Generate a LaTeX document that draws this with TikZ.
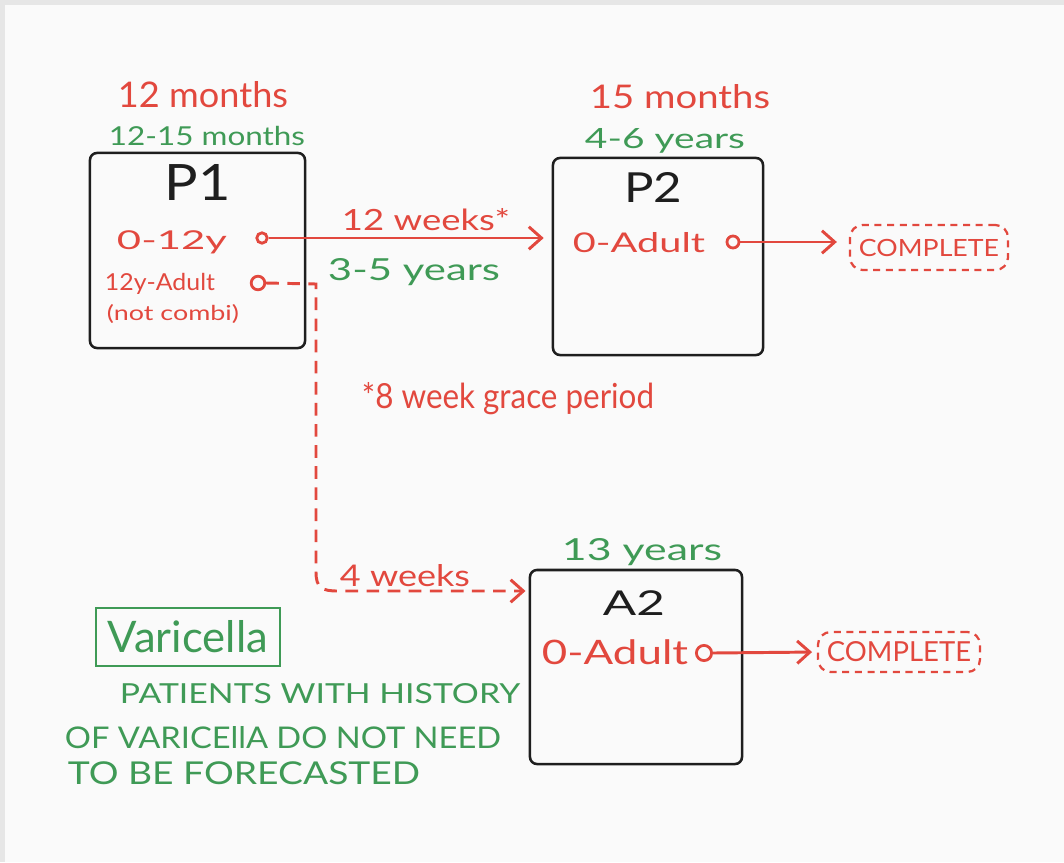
\documentclass[tikz,border=0pt]{standalone}
\usepackage{fontspec}
\setmainfont{Lato}
\usetikzlibrary{arrows.meta}
\definecolor{pen}{HTML}{E2483E}
\definecolor{leaf}{HTML}{3F9A56}
\definecolor{ink}{HTML}{1E1E1E}
\definecolor{paper}{HTML}{FAFAFA}
\definecolor{edge}{HTML}{E6E6E6}
% width, height (height above baseline), text
\newcommand{\fitw}[3]{\resizebox{#1}{#2}{#3}}
\tikzset{
  card/.style={draw=ink, line width=1.8pt, rounded corners=5pt, inner sep=0pt},
  rtxt/.style={inner sep=0pt, text=pen},
  gtxt/.style={inner sep=0pt, text=leaf},
  ktxt/.style={inner sep=0pt, text=ink},
  port/.style={circle, draw=pen, line width=2pt, inner sep=0pt},
  flow/.style={draw=pen, line width=2.1pt, -{Straight Barb[length=9pt,width=16pt,line width=2.1pt]}},
  donebox/.style={draw=pen, dashed, dash pattern=on 5pt off 4pt, line width=1.6pt, rounded corners=9pt, inner sep=0pt, text=pen},
  tagbox/.style={draw=leaf, line width=1.6pt, inner sep=0pt, text=leaf}
}
\begin{document}
\begin{tikzpicture}[x=0.025cm,y=-0.025cm]
\useasboundingbox (0,0) rectangle (1064,862);
\fill[edge] (0,0) rectangle (1064,862);
\fill[paper] (5,5) rectangle (1064,862);

% boxes
\node[card, minimum width=5.375cm, minimum height=4.875cm] (p1) at (197.5,250.5) {};
\node[card, minimum width=5.25cm, minimum height=4.925cm] (p2) at (658,256.5) {};
\node[card, minimum width=5.3cm, minimum height=4.85cm] (a2) at (636,667) {};

% P1 texts
\node[rtxt, anchor=base] (p1top) at (203,107) {\fitw{4.25cm}{0.65cm}{12 months}};
\node[gtxt, anchor=base] (p1rng) at (207,145) {\fitw{4.9cm}{0.48cm}{12-15 months}};
\node[ktxt, anchor=base] (p1name) at (198,200) {\fitw{1.65cm}{0.9cm}{P1}};
\node[rtxt, anchor=base] (p1a) at (172,249) {\fitw{2.75cm}{0.47cm}{0-12y}};
\node[rtxt, anchor=base] (p1b) at (160,290) {\fitw{2.75cm}{0.43cm}{12y-Adult}};
\node[rtxt, anchor=base] (p1c) at (173,320) {\fitw{3.3cm}{0.4cm}{(not combi)}};
\node[port, minimum size=0.26cm] (c1) at (262,238) {};
\node[port, minimum size=0.34cm] (c2) at (258,283) {};

% P2 texts
\node[rtxt, anchor=base] (p2top) at (680,108) {\fitw{4.5cm}{0.6cm}{15 months}};
\node[gtxt, anchor=base] (p2rng) at (665,148) {\fitw{4cm}{0.5cm}{4-6 years}};
\node[ktxt, anchor=base] (p2name) at (653,202) {\fitw{1.45cm}{0.75cm}{P2}};
\node[rtxt, anchor=base] (p2a) at (639,252) {\fitw{3.3cm}{0.5cm}{0-Adult}};
\node[port, minimum size=0.3cm] (c3) at (733,242) {};
\node[donebox, minimum width=3.95cm, minimum height=1.125cm] (done1) at (929,247.5) {\fitw{3.5cm}{0.43cm}{COMPLETE}};

% link P1 -> P2
\node[rtxt, anchor=base] (w12) at (426,230) {\fitw{4.2cm}{0.55cm}{12 weeks*}};
\node[gtxt, anchor=base] (y35) at (414,280) {\fitw{4.3cm}{0.55cm}{3-5 years}};
\node[rtxt, anchor=base] (grace) at (508,408) {\fitw{7.3cm}{0.65cm}{*8 week grace period}};

% A2 texts
\node[gtxt, anchor=base] (a2top) at (642,560) {\fitw{4cm}{0.55cm}{13 years}};
\node[ktxt, anchor=base] (a2name) at (634,615) {\fitw{1.55cm}{0.62cm}{A2}};
\node[rtxt, anchor=base] (a2a) at (615,664) {\fitw{3.65cm}{0.62cm}{0-Adult}};
\node[port, minimum size=0.38cm] (c4) at (704,653) {};
\node[donebox, minimum width=4.05cm, minimum height=1cm] (done2) at (899,652) {\fitw{3.6cm}{0.5cm}{COMPLETE}};

\node[rtxt, anchor=base] (w4) at (405,586) {\fitw{3.25cm}{0.55cm}{4 weeks}};

% Varicella note
\node[tagbox, minimum width=4.6cm, minimum height=1.45cm] (var) at (188,637) {\fitw{4cm}{0.8cm}{Varicella}};
\node[gtxt, anchor=base] (n1) at (320,703) {\fitw{10cm}{0.5cm}{PATIENTS WITH HISTORY}};
\node[gtxt, anchor=base] (n2) at (283,748) {\fitw{10.9cm}{0.55cm}{OF VARICEllA DO NOT NEED}};
\node[gtxt, anchor=base] (n3) at (244,784) {\fitw{8.8cm}{0.57cm}{TO BE FORECASTED}};

% connectors
\coordinate (k1) at (316,284);
\coordinate (k2) at (316,572);
\coordinate (k3) at (338,591);
\draw[flow, shorten >=0.2cm] (c1.east) -- (c1 -| p2.west);
\draw[flow, shorten >=0.3cm] (c3.east) -- (c3 -| done1.west);
\draw[flow, shorten >=0.12cm] (c4.east) -- (done2.west);
\draw[flow, dash pattern=on 9pt off 6pt, shorten >=0.08cm] (c2.east) -- (k1) -- (k2) .. controls (316,588) and (322,591) .. (k3) -- (k3 -| a2.west);
\end{tikzpicture}
\end{document}
